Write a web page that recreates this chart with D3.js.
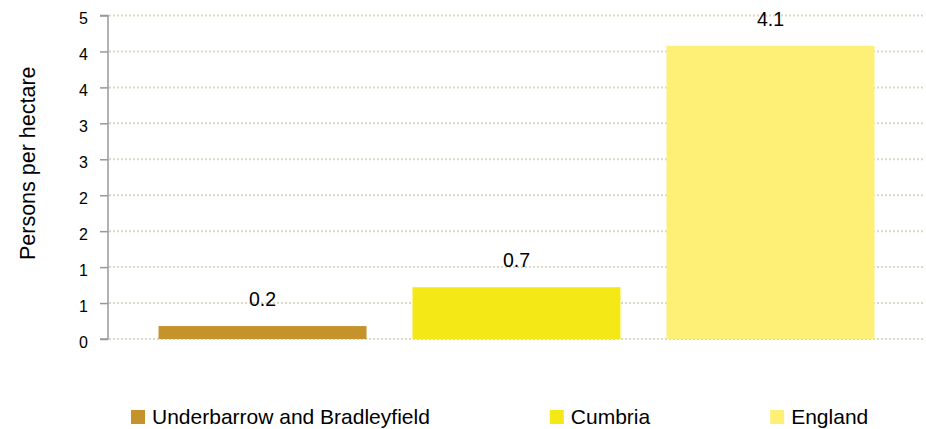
<!DOCTYPE html>
<html>
<head>
<meta charset="utf-8">
<script src="https://cdn.jsdelivr.net/npm/d3@7"></script>
<style>
  html, body { margin: 0; padding: 0; background: #ffffff; }
  svg { display: block; font-family: "Liberation Sans", Arial, sans-serif; }
</style>
</head>
<body>
<svg id="chart" width="926" height="429"></svg>
<script>
// ---- data ----
const categories = ["Underbarrow and Bradleyfield", "Cumbria", "England"];
const values = [0.18, 0.72, 4.08];
const colors = ["#C5922B", "#F4E817", "#FEF077"];
const tickValues = [0, 0.5, 1, 1.5, 2, 2.5, 3, 3.5, 4, 4.5];
const tickLabels = ["0", "1", "1", "2", "2", "3", "3", "4", "4", "5"];
const yTitle = "Persons per hectare";

// ---- layout ----
const svg = d3.select("#chart");
const plot = { left: 108, right: 925, top: 15.5, bottom: 339 };

const x = d3.scaleBand()
  .domain(categories)
  .range([plot.left, plot.right])
  .paddingInner(0.181)
  .paddingOuter(0.199)
  .align(0.5);

const y = d3.scaleLinear()
  .domain([0, 4.5])
  .range([plot.bottom, plot.top]);

// gridlines
svg.append("g")
  .selectAll("line")
  .data(tickValues)
  .join("line")
  .attr("x1", plot.left + 1)
  .attr("x2", plot.right)
  .attr("y1", d => y(d))
  .attr("y2", d => y(d))
  .attr("stroke", "#DDD8C2")
  .attr("stroke-width", 2)
  .attr("stroke-dasharray", "2,2");

// bars
svg.append("g")
  .selectAll("rect")
  .data(values)
  .join("rect")
  .attr("x", (d, i) => x(categories[i]))
  .attr("width", x.bandwidth())
  .attr("y", d => y(d))
  .attr("height", d => y(0) - y(d))
  .attr("fill", (d, i) => colors[i]);

// y axis
const yAxis = d3.axisLeft(y)
  .tickValues(tickValues)
  .tickFormat((d, i) => tickLabels[i])
  .tickSize(8)
  .tickPadding(12);

const ag = svg.append("g")
  .attr("transform", `translate(${plot.left},0)`)
  .call(yAxis);
ag.attr("font-size", 16)
  .attr("font-family", "'Liberation Sans', Arial, sans-serif");
ag.select(".domain")
  .attr("d", `M-8,${y(4.5)}H0V${y(0)}H-8`)
  .attr("stroke", "#999999")
  .attr("stroke-width", 1.5);
ag.selectAll(".tick line").attr("stroke", "#999999").attr("stroke-width", 1.5);
ag.selectAll(".tick text")
  .attr("fill", "#000")
  .attr("dy", "0.52em");

// y title
svg.append("text")
  .attr("transform", `translate(35,${(plot.top + plot.bottom) / 2 - 14}) rotate(-90)`)
  .attr("text-anchor", "middle")
  .style("font-size", "21.5px")
  .attr("fill", "#000")
  .text(yTitle);

// data labels
svg.append("g")
  .selectAll("text")
  .data(values)
  .join("text")
  .attr("x", (d, i) => x(categories[i]) + x.bandwidth() / 2)
  .attr("y", d => y(d) - 20)
  .attr("text-anchor", "middle")
  .style("font-size", "19.5px")
  .attr("fill", "#000")
  .text(d => d3.format(".1f")(d));

// legend
const legend = svg.append("g");
let lx = 131;
categories.forEach((c, i) => {
  legend.append("rect")
    .attr("x", lx).attr("y", 410)
    .attr("width", 14).attr("height", 14)
    .attr("fill", colors[i]);
  const t = legend.append("text")
    .attr("x", lx + 21)
    .attr("y", 424)
    .style("font-size", "21px")
    .attr("fill", "#000")
    .text(c);
  const w = t.node().getComputedTextLength();
  lx = lx + 21 + w + 120;
});
</script>
</body>
</html>
